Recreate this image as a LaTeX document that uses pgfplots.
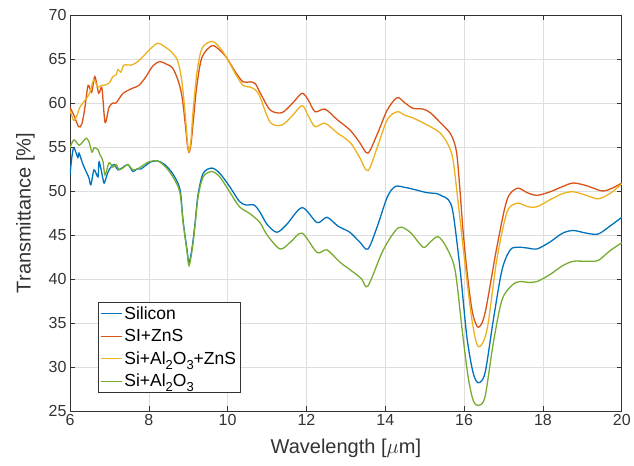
\documentclass[border=0pt]{standalone}
\usepackage{fontspec}
\setmainfont{Liberation Sans}
\usepackage{pgfplots}
\pgfplotsset{compat=1.18}

\definecolor{mblue}{rgb}{0,0.447,0.741}
\definecolor{mred}{rgb}{0.85,0.325,0.098}
\definecolor{myellow}{rgb}{0.929,0.694,0.125}
\definecolor{mgreen}{rgb}{0.466,0.674,0.188}
\definecolor{axgray}{rgb}{0.2,0.2,0.2}

\newcommand{\sub}[1]{\raisebox{-0.55ex}{\fontsize{13}{13}\selectfont #1}}

\begin{document}
\begin{tikzpicture}
\begin{axis}[
  scale only axis,
  width=552pt, height=396pt,
  xmin=6, xmax=20, ymin=25, ymax=70,
  xtick={6,8,...,20},
  ytick={25,30,...,70},
  grid=major,
  major grid style={black!13, line width=0.6pt},
  axis line style={axgray, line width=0.6pt},
  tick style={axgray, line width=0.6pt},
  tick align=inside,
  major tick length=5pt,
  ticklabel style={font=\fontsize{16}{19}\selectfont, text=axgray},
  /pgf/number format/assume math mode=true,
  xlabel={Wavelength [$\mu$m]},
  ylabel={Transmittance [\%]},
  label style={font=\fontsize{20}{24}\selectfont, text=axgray},
  xlabel style={yshift=-6pt},
  ylabel style={yshift=7pt},
  every axis plot/.append style={line width=1.3pt, smooth},
  legend style={at={(0.05,0.045)}, anchor=south west, draw=axgray,
    line width=0.6pt, fill=white, font=\fontsize{17.5}{20}\selectfont,
    inner sep=2.5pt, row sep=4.5pt},
  legend cell align=left,
  legend image code/.code={\draw[#1, line width=1pt] (0pt,0pt) -- (21pt,0pt);},
]
\coordinate (ll) at (rel axis cs:0,0);
\coordinate (ur) at (rel axis cs:1,1);

% Silicon
\addplot[mblue] coordinates {
(6.00,51.8) (6.05,53.9) (6.10,54.9) (6.20,53.8) (6.23,54.3) (6.33,53.0)
(6.41,52.2) (6.48,51.5) (6.53,50.7) (6.61,52.4) (6.71,51.6) (6.74,53.3)
(6.84,51.3) (6.87,50.9) (6.97,52.2) (7.04,52.7) (7.12,53.0) (7.22,52.4)
(7.35,52.7) (7.47,53.0) (7.60,52.2) (7.70,52.5) (7.80,52.5) (8.05,53.3)
(8.23,53.4) (8.40,53.0) (8.60,52.0) (8.79,50.2) (8.87,46.6) (8.97,43.3)
(9.02,41.8) (9.10,43.6) (9.17,46.2) (9.25,49.6) (9.38,52.0) (9.60,52.6)
(9.80,52.0) (10.05,50.5)
(10.30,48.8) (10.47,48.4) (10.67,48.4) (10.82,47.6) (11.00,46.2) (11.25,45.3)
(11.50,46.2) (11.89,48.1) (12.27,46.4) (12.52,47.0) (12.80,46.0) (13.10,45.3)
(13.35,44.2) (13.56,43.4) (13.80,46.0) (14.05,49.3) (14.25,50.5) (14.50,50.4)
(14.70,50.2) (15.06,49.8) (15.30,49.7) (15.45,49.4) (15.60,49.0) (15.72,47.5)
(15.90,41.0) (16.07,33.4) (16.23,29.3) (16.36,28.2) (16.53,29.3) (16.74,35.3)
(16.96,41.0) (17.17,43.3) (17.37,43.6) (17.62,43.5) (17.85,43.4) (18.18,44.2)
(18.50,45.2) (18.77,45.5) (19.10,45.2) (19.40,45.1) (19.70,46.0) (20.00,47.0)
};
\addlegendentry{Silicon}

% SI+ZnS
\addplot[mred] coordinates {
(6.00,59.5) (6.10,58.6) (6.22,57.3) (6.30,57.6) (6.38,59.5) (6.46,62.0)
(6.55,61.2) (6.63,63.0) (6.73,61.1) (6.81,61.7) (6.89,57.8) (6.99,59.5)
(7.09,60.0) (7.17,60.0) (7.35,61.1) (7.60,61.7) (7.75,62.0) (7.93,63.0)
(8.10,64.2) (8.28,64.7) (8.45,64.4) (8.60,64.0) (8.74,62.6) (8.84,60.8)
(8.92,57.8) (8.98,55.2) (9.02,54.4) (9.07,55.3) (9.13,58.0) (9.22,62.0)
(9.35,65.2) (9.60,66.5)
(9.80,66.0) (9.98,65.1) (10.20,63.5) (10.39,62.4) (10.57,62.4) (10.70,62.2)
(10.82,61.2) (11.08,59.2) (11.38,58.9) (11.65,60.0) (11.89,61.1) (12.05,60.3)
(12.22,59.0) (12.47,59.3) (12.78,58.1) (13.11,56.9) (13.35,55.5) (13.56,54.3)
(13.80,56.5) (14.05,59.2) (14.30,60.6) (14.50,60.0) (14.70,59.4) (14.96,59.3)
(15.14,58.9) (15.39,57.8) (15.64,56.6) (15.75,55.5) (15.82,54.0) (15.90,49.8)
(15.97,45.6) (16.07,41.0) (16.15,38.0) (16.23,35.8) (16.36,34.5) (16.53,36.1)
(16.83,43.6) (17.09,49.0) (17.35,50.3) (17.60,49.8) (17.85,49.5) (18.18,49.9)
(18.50,50.5) (18.77,50.9) (19.10,50.6) (19.50,50.0) (19.75,50.3) (20.00,50.9)
};
\addlegendentry{SI+ZnS}

% Si+Al2O3+ZnS
\addplot[myellow] coordinates {
(6.00,59.2) (6.05,58.5) (6.10,58.0) (6.18,58.6) (6.25,59.5) (6.38,60.3)
(6.50,61.1) (6.60,62.6) (6.71,61.8) (6.80,62.0) (6.87,62.0) (7.00,62.3)
(7.09,63.0) (7.17,63.2) (7.22,63.8) (7.29,63.5) (7.37,64.3) (7.55,64.3)
(7.72,64.7) (7.90,65.5) (8.05,66.2) (8.23,66.8) (8.40,66.4) (8.60,65.7)
(8.74,64.7) (8.84,62.4) (8.92,58.9) (8.98,55.6) (9.02,54.5) (9.07,55.8)
(9.12,58.9) (9.22,63.4) (9.35,66.2) (9.60,67.0) (9.80,66.3) (9.98,65.1)
(10.20,63.3) (10.39,62.0)
(10.57,61.8) (10.70,61.5) (10.82,60.7) (11.08,57.8) (11.38,57.5) (11.65,58.6)
(11.89,59.7) (12.05,58.5) (12.22,57.3) (12.47,57.7) (12.78,56.6) (13.11,55.5)
(13.35,53.8) (13.56,52.3) (13.80,55.0) (14.05,58.1) (14.30,59.0) (14.50,58.6)
(14.70,58.3) (15.06,57.5) (15.39,56.6) (15.60,55.2) (15.72,53.5) (15.85,48.6)
(16.02,41.8) (16.20,35.3) (16.36,32.3) (16.58,34.2) (16.83,42.2) (17.09,47.6)
(17.35,48.6) (17.62,48.2) (17.85,48.2) (18.18,49.0) (18.50,49.7) (18.77,49.9)
(19.10,49.5) (19.40,49.1) (19.70,49.7) (20.00,50.8)
};
\addlegendentry{Si+Al\sub{2}O\sub{3}+ZnS}

% Si+Al2O3
\addplot[mgreen] coordinates {
(6.00,54.9) (6.10,55.8) (6.23,55.2) (6.33,55.6) (6.41,56.0) (6.48,55.6)
(6.56,54.4) (6.61,54.9) (6.71,54.7) (6.76,54.1) (6.79,53.9) (6.84,53.3)
(6.89,51.8) (6.99,53.2) (7.09,52.7) (7.17,53.0) (7.25,52.4) (7.37,52.7)
(7.47,53.0) (7.60,52.4) (7.75,52.6) (8.00,53.3) (8.23,53.4) (8.45,52.6)
(8.65,51.3) (8.79,49.8) (8.87,46.4) (8.97,43.1) (9.02,41.5) (9.10,43.3)
(9.17,45.9) (9.25,49.3) (9.38,51.6) (9.60,52.2) (9.80,51.6) (10.05,49.9)
(10.30,48.2) (10.57,47.4)
(10.82,46.4) (11.00,45.0) (11.33,43.4) (11.60,44.2) (11.89,45.2) (12.27,43.0)
(12.52,43.3) (12.85,41.9) (13.18,40.8) (13.40,40.0) (13.56,39.2) (13.95,43.3)
(14.33,45.8) (14.63,45.3) (14.96,43.6) (15.14,44.2) (15.34,44.8) (15.55,43.6)
(15.77,41.0) (15.95,34.2) (16.10,28.9) (16.23,26.2) (16.36,25.6) (16.53,26.6)
(16.74,32.7) (16.96,37.6) (17.22,39.3) (17.42,39.7) (17.62,39.6) (17.85,39.7)
(18.18,40.5) (18.50,41.5) (18.77,42.0) (19.10,42.0) (19.40,42.1) (19.70,43.2)
(20.00,44.1)
};
\addlegendentry{Si+Al\sub{2}O\sub{3}}
\end{axis}
\path ([xshift=-70pt,yshift=-55pt]ll) rectangle ([xshift=12pt,yshift=15pt]ur);
\end{tikzpicture}
\end{document}
